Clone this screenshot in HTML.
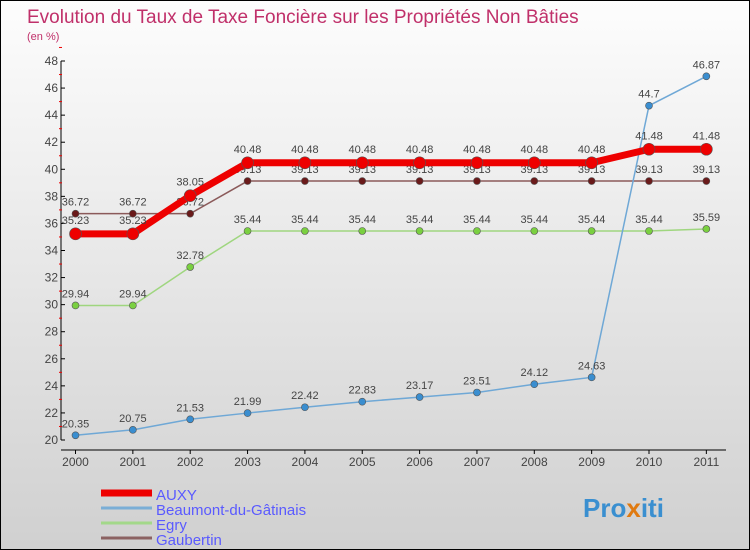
<!DOCTYPE html>
<html><head><meta charset="utf-8"><style>
html,body{margin:0;padding:0}
body{width:750px;height:550px;overflow:hidden;font-family:"Liberation Sans",sans-serif}
#wrap{position:relative;width:748px;height:548px;border:1px solid #000;background:linear-gradient(#fdfdfd,#d0d0d0)}
</style></head><body>
<div id="wrap">
<svg id="chart" width="748" height="548" style="position:absolute;left:0;top:0;font-family:'Liberation Sans',sans-serif">
<text x="26" y="22" font-size="19" fill="#c0306a">Evolution du Taux de Taxe Foncière sur les Propriétés Non Bâties</text>
<text x="26" y="39" font-size="11" fill="#c0306a">(en %)</text>
<g id="axes"></g>
<g id="series"></g>
<g id="legend"></g>
<text x="582" y="516" font-size="26" font-weight="bold" fill="#3a8fd0">Pro<tspan fill="#e07a10">x</tspan>iti</text>
</svg>
</div>
<script>
const years=["2000","2001","2002","2003","2004","2005","2006","2007","2008","2009","2010","2011"];
const yTicks=[20,22,24,26,28,30,32,34,36,38,40,42,44,46,48];
const auxy=[35.23,35.23,38.05,40.48,40.48,40.48,40.48,40.48,40.48,40.48,41.48,41.48];
const beaumont=[20.35,20.75,21.53,21.99,22.42,22.83,23.17,23.51,24.12,24.63,44.7,46.87];
const egry=[29.94,29.94,32.78,35.44,35.44,35.44,35.44,35.44,35.44,35.44,35.44,35.59];
const gaubertin=[36.72,36.72,36.72,39.13,39.13,39.13,39.13,39.13,39.13,39.13,39.13,39.13];
const seriesNames=["AUXY","Beaumont-du-Gâtinais","Egry","Gaubertin"];
const NS="http://www.w3.org/2000/svg";
function xS(i){return 74.5+i*57.35;}
function yS(v){return 439-(v-20)*(379/28);}
function mk(tag,attrs,parent,txt){const e=document.createElementNS(NS,tag);for(const k in attrs)e.setAttribute(k,attrs[k]);if(txt!==undefined)e.textContent=txt;parent.appendChild(e);return e;}
const ax=document.getElementById('axes');
let a=mk('line',{x1:60,y1:yS(48),x2:60,y2:yS(20),stroke:'#000'},ax);


a=mk('line',{x1:60,y1:449,x2:725,y2:449,stroke:'#000'},ax);


yTicks.forEach(v=>{
  mk('line',{x1:60,y1:yS(v),x2:64,y2:yS(v),stroke:'#000'},ax);
  mk('line',{x1:58,y1:yS(v+1),x2:61,y2:yS(v+1),stroke:'#e00'},ax);
  const t=mk('text',{x:57,y:yS(v)+4,'font-size':12,'text-anchor':'end',fill:'#444'},ax,String(v));
  
  
});
years.forEach((y,i)=>{
  mk('line',{x1:xS(i),y1:449,x2:xS(i),y2:453,stroke:'#000'},ax);
  const t=mk('text',{x:xS(i),y:465,'font-size':12,'text-anchor':'middle',fill:'#444'},ax,y);
  
  
});
const sg=document.getElementById('series');
function draw(data,color,w,r,dot,name,labelDy){
  const g=mk('g',{},sg);
  
  
  const pts=data.map((v,i)=>xS(i)+','+yS(v)).join(' ');
  const p=mk('polyline',{points:pts,fill:'none',stroke:color,'stroke-width':w},g);
  
  
  data.forEach((v,i)=>{
    const c=mk('circle',{cx:xS(i),cy:yS(v),r:r,fill:dot,stroke:'#555','stroke-width':0.6},g);
    
    
    const t=mk('text',{x:xS(i),y:yS(v)+labelDy,'font-size':11,'text-anchor':'middle',fill:'#444'},g,String(v));
    
    
  });
}
draw(gaubertin,'#8b5a5a',1.5,3.5,'#6a1a1a','gaubertin',-8);
draw(egry,'#9fd67f',1.5,3.5,'#7ad040','egry',-8);
draw(beaumont,'#6fa8d6',1.5,3.5,'#3a8ed0','beaumont',-8);
draw(auxy,'#ee0000',7,6,'#ee0000','auxy',-10);
const lg=document.getElementById('legend');
const lc=['#ee0000','#7aaed6','#a3d88a','#8b6262'];
const lw=[7,3,3,3];
seriesNames.forEach((n,i)=>{
  const y=492+i*15;
  const g=mk('g',{},lg);
  
  
  mk('line',{x1:100,y1:y,x2:151,y2:y,stroke:lc[i],'stroke-width':lw[i]},g);
  mk('text',{x:155,y:y+7,'font-size':15,fill:'#5a5aff'},g,n);
});
</script>
</body></html>
